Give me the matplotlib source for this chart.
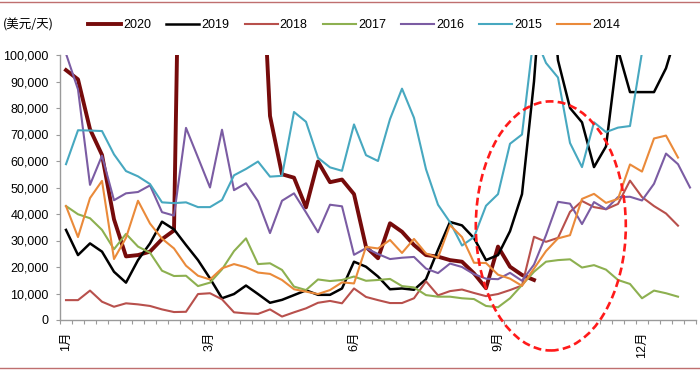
import numpy as np
import matplotlib
matplotlib.use("Agg")
import matplotlib.pyplot as plt
from matplotlib.patches import Ellipse
from matplotlib.lines import Line2D
from matplotlib.ticker import FuncFormatter

plt.rcParams['font.family'] = ['Liberation Sans', 'Noto Sans CJK SC', 'DejaVu Sans']

# ---------------- data (thousand USD/day, weekly) ----------------
n_weeks = 53
month_labels = ['1月', '3月', '6月', '9月', '12月']
month_positions = [0, 12, 24, 36, 48]
unit_label = '(美元/天)'

y2020 = [94.3, 90.8, 72.0, 62.3, 38.0, 24.0, 24.5, 25.8, 30.5, 33.8,
         300.0, 250.0, 200.0, 230.0, 260.0, 220.0, 169.0, 77.0, 55.0, 53.7,
         42.5, 59.8, 52.0, 53.0, 47.5, 27.6, 23.3, 36.5, 33.3, 28.3,
         24.5, 23.9, 22.6, 22.0, 17.6, 12.0, 27.7, 20.1, 17.0, 15.1]

y2019 = [34.0, 24.5, 28.9, 25.8, 18.2, 14.1, 22.6, 28.9, 37.1, 34.2,
         28.3, 22.6, 15.7, 8.2, 9.8, 13.0, 9.8, 6.5, 7.6, 9.4,
         11.2, 9.5, 9.5, 11.9, 22.0, 20.1, 16.4, 11.6, 11.9, 11.4,
         15.4, 26.5, 37.0, 35.7, 30.9, 22.6, 24.5, 33.5, 47.5, 90.0,
         150.0, 98.0, 80.0, 74.6, 57.7, 65.5, 102.0, 86.0, 86.0, 86.0,
         95.0, 110.0]

y2018 = [7.5, 7.5, 11.1, 6.9, 5.0, 6.3, 5.9, 5.3, 4.0, 3.0,
         3.1, 9.8, 10.1, 7.8, 2.9, 2.5, 2.3, 4.0, 1.3, 2.9,
         4.4, 6.5, 7.2, 6.3, 11.9, 8.7, 7.5, 6.4, 6.4, 8.2,
         14.6, 9.3, 10.9, 11.5, 10.2, 9.0, 9.8, 11.3, 13.0, 31.4,
         29.5, 31.0, 40.8, 44.9, 42.6, 41.8, 43.8, 52.6, 46.4, 43.0,
         40.2, 35.6]

y2017 = [43.0, 39.9, 38.4, 34.0, 26.7, 32.5, 27.7, 25.4, 18.6, 16.6,
         16.7, 12.8, 14.1, 19.1, 26.0, 30.8, 21.1, 21.4, 18.9, 12.6,
         11.3, 15.3, 14.7, 15.1, 16.4, 14.8, 15.1, 15.5, 12.8, 12.3,
         9.4, 8.8, 8.8, 8.2, 7.9, 5.3, 4.8, 8.2, 13.2, 18.2,
         22.0, 22.6, 22.9, 19.8, 20.7, 19.0, 15.1, 13.6, 8.2, 11.1,
         10.1, 8.8]

y2016 = [100.5, 87.0, 51.0, 62.0, 45.2, 47.8, 48.3, 50.8, 40.7, 39.4,
         72.5, 61.3, 50.0, 71.8, 49.0, 51.6, 44.8, 32.8, 45.0, 47.8,
         40.6, 33.1, 43.5, 42.9, 24.6, 27.1, 24.9, 23.0, 23.5, 23.8,
         19.4, 17.7, 21.3, 20.0, 17.3, 15.6, 15.4, 17.8, 14.8, 20.9,
         32.0, 44.6, 43.9, 36.2, 44.5, 41.8, 46.4, 46.5, 45.1, 51.4,
         62.8, 58.8, 50.0]

y2015 = [58.8, 71.6, 71.5, 71.3, 62.5, 56.2, 54.2, 51.3, 44.4, 44.1,
         44.4, 42.6, 42.6, 45.3, 54.6, 57.0, 59.8, 54.1, 54.4, 78.5,
         74.8, 61.2, 57.6, 56.3, 73.8, 62.2, 60.0, 75.8, 87.3, 76.3,
         56.9, 43.5, 36.9, 28.1, 31.3, 43.1, 47.5, 66.5, 70.0, 108.0,
         97.0, 91.5, 66.8, 57.7, 74.6, 70.9, 72.6, 73.2, 101.0]

y2014 = [43.0, 31.3, 46.0, 52.5, 23.0, 31.0, 45.0, 36.4, 30.7, 27.0,
         20.5, 16.7, 15.3, 19.5, 21.1, 19.9, 17.9, 17.4, 15.1, 11.6,
         10.7, 9.8, 11.3, 14.2, 13.8, 27.6, 27.0, 30.2, 25.3, 30.6,
         25.1, 23.5, 35.8, 31.3, 21.6, 21.5, 17.1, 15.6, 12.9, 19.4,
         26.0, 30.8, 32.0, 45.7, 47.6, 44.2, 45.7, 58.7, 56.0, 68.5,
         69.6, 61.3]

series_names = ['2020', '2019', '2018', '2017', '2016', '2015', '2014']
series_values = [y2020, y2019, y2018, y2017, y2016, y2015, y2014]

# ---------------- styles ----------------
colors = ['#760B0B', '#000000', '#B8504C', '#8DB050', '#7B5CA3', '#47A8C0', '#EA8A3A']
widths = [2.8, 1.8, 1.5, 1.5, 1.5, 1.5, 1.5]

# annotation ellipse (axis units: week index, USD/day)
ellipse_center = (40.4, 35500)
ellipse_size = (12.5, 94000)

fig = plt.figure(figsize=(7, 3.7), dpi=100)
ax = fig.add_axes([60 / 700, 50 / 370, 636 / 700, 265 / 370])

for name, vals, c, lw in zip(series_names, series_values, colors, widths):
    v = np.array(vals, dtype=float) * 1000
    ax.plot(np.arange(len(v)), v, color=c, lw=lw, label=name)

ax.set_xlim(-0.5, n_weeks - 0.5)
ax.set_ylim(0, 100000)
ax.set_yticks(np.arange(0, 100001, 10000))
ax.yaxis.set_major_formatter(FuncFormatter(lambda v, p: f'{v:,.0f}'))

ax.set_xticks(np.arange(-0.5, n_weeks, 1))
ax.set_xticklabels([])
ax.set_xticks(month_positions, month_labels, minor=True, rotation=90)
ax.tick_params(axis='x', which='major', direction='out', length=3, color='#9A9A9A')
ax.tick_params(axis='x', which='minor', length=0, pad=8.5, labelsize=9)
ax.tick_params(axis='y', direction='out', length=3, color='#9A9A9A', labelsize=9, pad=5)

for s in ['top', 'right']:
    ax.spines[s].set_visible(False)
for s in ['left', 'bottom']:
    ax.spines[s].set_color('#9A9A9A')
    ax.spines[s].set_linewidth(1.0)

ell = Ellipse(ellipse_center, ellipse_size[0], ellipse_size[1], fill=False,
              ec='#FF1A1A', lw=1.9, ls=(0, (3.0, 1.6)), clip_on=False, zorder=5)
ax.add_patch(ell)

# unit + legend
fig.text(3 / 700, 1 - 25 / 370, unit_label, ha='left', va='center', fontsize=9,
         family=['Noto Sans CJK SC', 'DejaVu Sans'])
handles, labels = ax.get_legend_handles_labels()
fig.legend(handles, labels, loc='center left', bbox_to_anchor=(88 / 700, 1 - 25 / 370),
           ncol=7, frameon=False, fontsize=9, handlelength=2.64, handletextpad=0.18,
           columnspacing=1.2, borderpad=0, borderaxespad=0)

# frame lines
fig.add_artist(Line2D([0, 1], [1 - 1.5 / 370, 1 - 1.5 / 370], transform=fig.transFigure,
                      color='#BF6F6F', lw=1.0))
fig.add_artist(Line2D([0, 1], [1 - 368 / 370, 1 - 368 / 370], transform=fig.transFigure,
                      color='#BF6F6F', lw=1.0))

fig.savefig('out.png', dpi=100)
